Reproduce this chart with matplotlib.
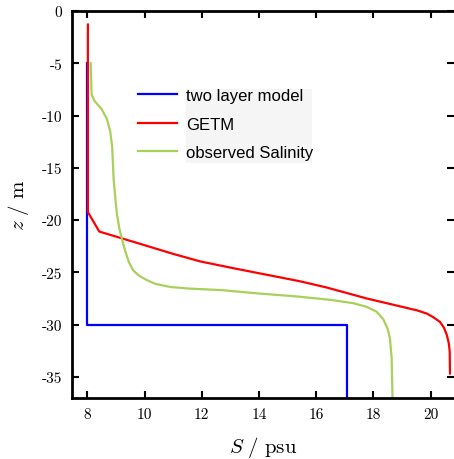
import numpy as np
import matplotlib.pyplot as plt
from matplotlib.patches import Rectangle

plt.rcParams['mathtext.fontset'] = 'cm'
plt.rcParams['axes.unicode_minus'] = False

# two layer model
two_S = [8.0, 8.0, 17.07, 17.07]
two_z = [-5.0, -30.0, -30.0, -37.5]

# GETM
getm_S = [8.02, 8.02, 8.42, 10.0, 10.96, 11.94, 13.1, 14.03, 15.43, 16.37,
          17.77, 18.7, 19.52, 19.87, 20.1, 20.33, 20.47, 20.57, 20.64, 20.67, 20.68]
getm_z = [-1.3, -19.24, -21.1, -22.4, -23.2, -23.95, -24.6, -25.1, -25.85, -26.45,
          -27.5, -28.1, -28.63, -28.94, -29.3, -29.74, -30.3, -31.0, -31.8, -32.6, -34.67]

# observed Salinity
obs_S = [8.12, 8.15, 8.25, 8.5, 8.68, 8.8, 8.87, 8.92, 9.0, 9.04, 9.12, 9.21, 9.33,
         9.45, 9.6, 9.8, 10.05, 10.38, 10.9, 11.55, 12.7, 14.03, 15.3, 16.5, 17.3,
         17.77, 18.12, 18.35, 18.5, 18.58, 18.64, 18.67]
obs_z = [-5.0, -8.0, -8.6, -9.38, -10.3, -11.5, -13.0, -16.1, -18.5, -19.5, -20.8,
         -21.8, -23.0, -24.0, -24.8, -25.3, -25.7, -26.1, -26.4, -26.55, -26.7, -27.03,
         -27.3, -27.63, -27.95, -28.3, -28.78, -29.5, -30.4, -31.3, -33.2, -37.0]

fig = plt.figure(figsize=(4.54, 4.60), dpi=100)
ax = fig.add_axes([0.1586, 0.133, 0.8414, 0.841])

l1, = ax.plot(two_S, two_z, color='#0000ff', lw=1.6)
l2, = ax.plot(getm_S, getm_z, color='#ff0000', lw=1.6)
l3, = ax.plot(obs_S, obs_z, color='#a8d05a', lw=1.6)

ax.set_xlim(7.465, 20.82)
ax.set_ylim(-37, 0)
ax.set_xticks([8, 10, 12, 14, 16, 18, 20])
ax.set_yticks([0, -5, -10, -15, -20, -25, -30, -35])

for lab in ax.get_xticklabels() + ax.get_yticklabels():
    lab.set_fontfamily('cmr10')
    lab.set_fontsize(11)

ax.tick_params(direction='in', length=5, width=1.5, top=True, right=True, pad=7)
for side in ['left', 'bottom', 'top']:
    ax.spines[side].set_linewidth(2)
ax.spines['right'].set_visible(False)

ax.set_xlabel(r'$S\ /\ \mathrm{psu}$', fontsize=15, labelpad=9)
ax.set_ylabel(r'$z\ /\ \mathrm{m}$', fontsize=15, labelpad=8)

# light grey panel behind the legend texts
ax.add_patch(Rectangle((186 / 454, 1 - 164 / 460), 126 / 454, 74 / 460,
                       transform=fig.transFigure, facecolor='#f5f5f5',
                       edgecolor='none', zorder=2.5))

leg = ax.legend([l1, l2, l3], ['two layer model', 'GETM', 'observed Salinity'],
                loc='upper left', bbox_to_anchor=(0.173, 0.80), frameon=False,
                borderpad=0, borderaxespad=0,
                handlelength=2.35, handletextpad=0.55, labelspacing=0.8,
                prop={'family': 'Liberation Sans', 'size': 12})

fig.savefig('out.png', dpi=100)
